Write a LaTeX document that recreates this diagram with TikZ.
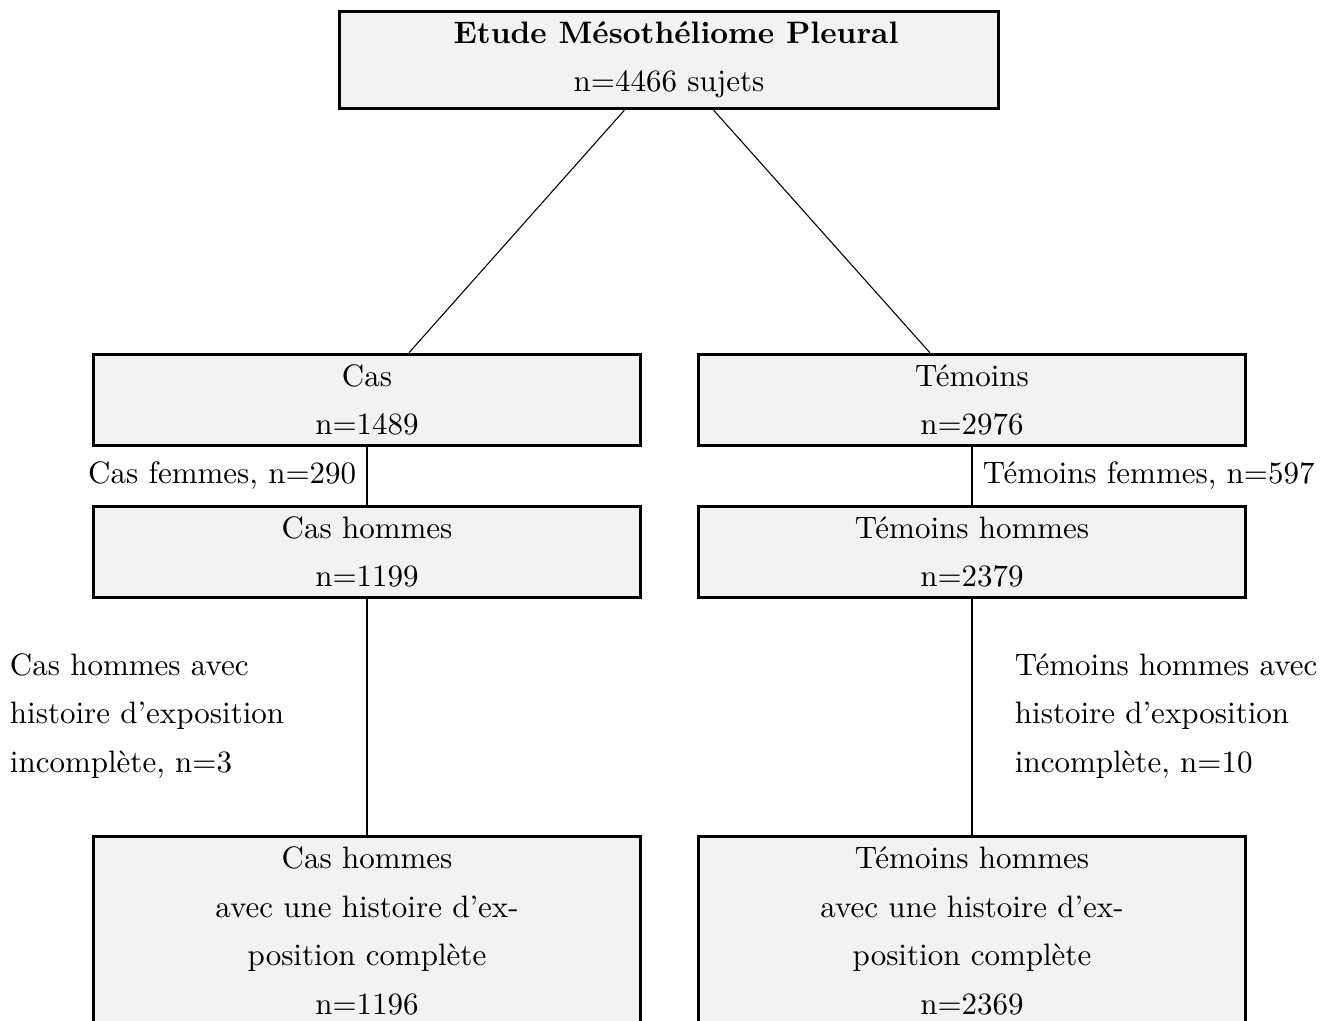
\documentclass[tikz,border=0pt]{standalone}
\usepackage{fontspec}
\begin{document}
\begin{tikzpicture}[x=0.3227pt,y=-0.3227pt]
\tikzset{
  txt/.style={font=\fontsize{10}{15.65}\selectfont},
  box/.style={txt, draw, line width=1pt, fill=gray!10, align=center,
    minimum width=547*0.3227pt, minimum height=87*0.3227pt},
  conn/.style={line width=0.35pt},
}
\useasboundingbox (0,0) rectangle (1336,1021);
\node[box, minimum width=659*0.3227pt, minimum height=93*0.3227pt] (top) at (669,60)
  {\hspace*{4.5pt}\textbf{Etude Mésothéliome Pleural}\\n=4466 sujets};
\node[box] (cas) at (367,400) {Cas\\n=1489};
\node[box] (tem) at (972,400) {Témoins\\n=2976};
\node[box] (cash) at (367,552) {Cas hommes\\n=1199};
\node[box] (temh) at (972,552) {Témoins hommes\\n=2379};
\node[box, minimum height=189*0.3227pt] (casc) at (367,931)
  {Cas hommes\\avec une histoire d’ex-\\position complète\\n=1196};
\node[box, minimum height=189*0.3227pt] (temc) at (972,931)
  {Témoins hommes\\avec une histoire d’ex-\\position complète\\n=2369};
\draw[conn] (top) -- (cas);
\draw[conn] (top) -- (tem);
\draw[conn] (cas) -- node[txt, left] (lcf) {Cas femmes, n=290} (cash);
\draw[conn] (tem) -- node[txt, right] (ltf) {Témoins femmes, n=597} (temh);
\draw[conn] (cash) -- (casc);
\draw[conn] (temh) -- (temc);
\node[txt, align=left, anchor=west] (lch) at (-1,716)
  {Cas hommes avec\\histoire d’exposition\\incomplète, n=3};
\node[txt, align=left, anchor=west] (lth) at (1004,716)
  {Témoins hommes avec\\histoire d’exposition\\incomplète, n=10};
\end{tikzpicture}
\end{document}
